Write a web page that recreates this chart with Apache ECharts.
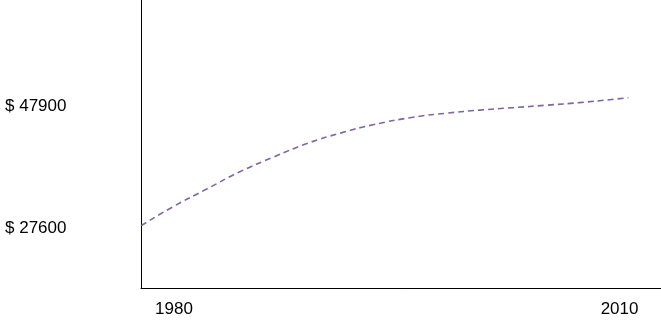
<!DOCTYPE html>
<html>
<head>
<meta charset="utf-8">
<script src="https://cdn.jsdelivr.net/npm/echarts@6/dist/echarts.min.js"></script>
<style>
html,body{margin:0;padding:0;background:#fff;}
#c{width:661px;height:325px;}
</style>
</head>
<body>
<div id="c"></div>
<script>
var years = [1977.8, 1979.9, 1982.2, 1984.4, 1986.7, 1989.0, 1991.2, 1993.4, 1996.1, 1998.4, 2000.6, 2002.8, 2005.1, 2007.3, 2009.6, 2010.6];
var values = [28000, 31100, 34100, 36950, 39450, 41750, 43450, 44850, 46100, 46800, 47300, 47700, 48120, 48550, 49100, 49370];
var xTickLabels = [1980, 2010];
var yTickLabels = [27600, 47900];

var data = years.map(function (y, i) { return [y, values[i]]; });
var chart = echarts.init(document.getElementById('c'), null, {renderer: 'canvas'});
chart.setOption({
  animation: false,
  grid: {left: 141, right: 0, top: 0, bottom: 37, containLabel: false},
  xAxis: {
    type: 'value', min: 1977.78, max: 2012.79,
    axisLine: {show: true, lineStyle: {color: '#000', width: 1}},
    axisTick: {show: false},
    splitLine: {show: false},
    axisLabel: {
      customValues: xTickLabels,
      color: '#000', fontSize: 17, fontFamily: 'Liberation Sans, Arial, sans-serif',
      margin: 13,
      formatter: function (v) { return String(v); }
    }
  },
  yAxis: {
    type: 'value', min: 17571, max: 65696,
    axisLine: {show: true, lineStyle: {color: '#000', width: 1}},
    axisTick: {show: false},
    splitLine: {show: false},
    axisLabel: {
      customValues: yTickLabels,
      color: '#000', fontSize: 17, fontFamily: 'Liberation Sans, Arial, sans-serif',
      align: 'left', margin: 136,
      formatter: function (v) { return '$ ' + v; }
    }
  },
  series: [{
    type: 'line', data: data, smooth: 0.5, showSymbol: false, symbol: 'none',
    lineStyle: {color: '#8064a8', width: 1.6, type: [6, 4]}
  }]
});
</script>
</body>
</html>
